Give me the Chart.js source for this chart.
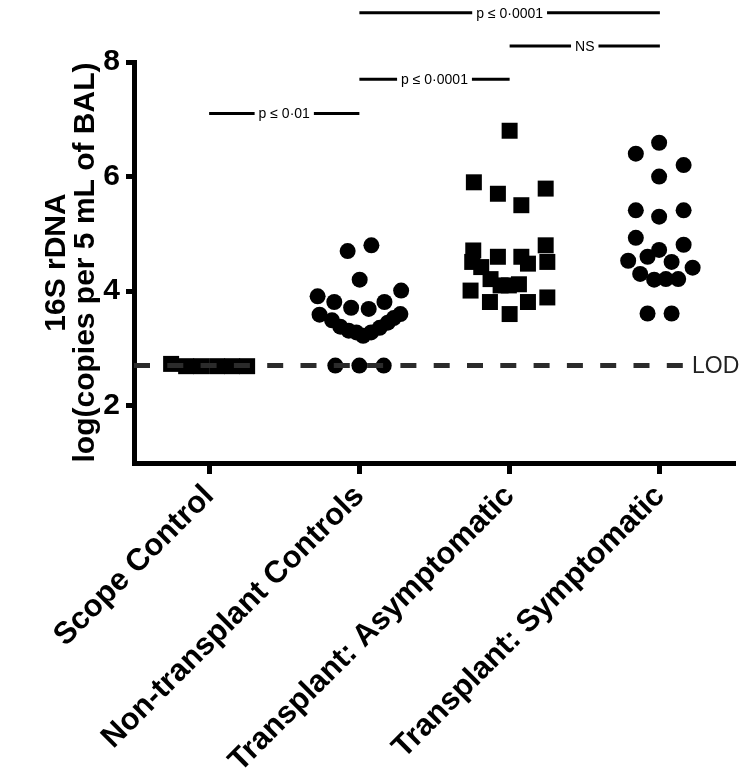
<!DOCTYPE html>
<html>
<head>
<meta charset="utf-8">
<script src="https://cdn.jsdelivr.net/npm/chart.js@4.4.0/dist/chart.umd.min.js"></script>
<style>
html,body{margin:0;padding:0;background:#fff;}
#wrap{width:748px;height:776px;position:relative;}
</style>
</head>
<body>
<div id="wrap"><canvas id="c"></canvas></div>
<script>
// ---- data ----
const categories = ['Scope Control', 'Non-transplant Controls', 'Transplant: Asymptomatic', 'Transplant: Symptomatic'];
const yTickValues = [2, 4, 6, 8];
const yMin = 1, yMax = 8;

const scopeValues = [2.73, 2.69, 2.69, 2.69, 2.69, 2.69];
const scopeJitter = [-0.253, -0.153, -0.053, 0.053, 0.153, 0.253];

const nonTxValues = [4.70, 4.80, 4.20, 3.91, 4.01, 3.81, 3.81, 3.71, 3.69, 3.59, 3.60, 3.49, 3.38, 3.31, 3.28, 3.22, 3.28, 3.36, 3.45, 3.53, 2.70, 2.70, 2.70];
const nonTxJitter = [-0.078, 0.080, 0.002, -0.278, 0.278, -0.167, 0.167, -0.055, 0.062, -0.265, 0.273, -0.182, -0.127, -0.071, -0.020, 0.025, 0.078, 0.135, 0.189, 0.229, -0.160, 0.000, 0.162];

const asympValues = [6.80, 5.90, 5.70, 5.79, 5.50, 4.71, 4.80, 4.60, 4.60, 4.51, 4.42, 4.48, 4.51, 4.21, 4.10, 4.10, 4.12, 4.01, 3.81, 3.81, 3.60, 3.89];
const asympJitter = [0.000, -0.238, -0.078, 0.240, 0.078, -0.242, 0.240, -0.078, 0.078, -0.249, -0.189, 0.122, 0.251, -0.127, -0.060, -0.005, 0.062, -0.260, -0.131, 0.122, 0.000, 0.251];

const sympValues = [6.59, 6.40, 6.20, 6.00, 5.41, 5.41, 5.30, 4.93, 4.81, 4.72, 4.60, 4.53, 4.51, 4.41, 4.30, 4.20, 4.21, 4.21, 3.61, 3.61];
const sympJitter = [-0.005, -0.160, 0.158, -0.005, -0.160, 0.158, -0.005, -0.160, 0.158, -0.005, -0.082, -0.211, 0.078, 0.218, -0.131, -0.038, 0.040, 0.122, -0.082, 0.078];

const lodValue = 2.7;
const lodLabel = 'LOD';

const sigFrom  = [0, 1, 2, 1];
const sigTo    = [1, 2, 3, 3];
const sigLevel = [7.10, 7.70, 8.28, 8.86];
const sigText  = ['p ≤ 0·01', 'p ≤ 0·0001', 'NS', 'p ≤ 0·0001'];

const yTitle = ['16S rDNA', 'log(copies per 5 mL of BAL)'];

// ---- build ----
const FONT = '"Liberation Sans", Arial, Helvetica, sans-serif';
function pts(idx, vals, jit) { return vals.map((v, i) => ({ x: idx + jit[i], y: v })); }

const groups = [
  { vals: scopeValues, jit: scopeJitter, style: 'rect' },
  { vals: nonTxValues, jit: nonTxJitter, style: 'circle' },
  { vals: asympValues, jit: asympJitter, style: 'rect' },
  { vals: sympValues, jit: sympJitter, style: 'circle' }
];

const datasets = groups.map((g, i) => ({
  label: categories[i],
  data: pts(i, g.vals, g.jit),
  pointStyle: g.style,
  pointRadius: g.style === 'rect' ? 11.3 : 8,
  pointBackgroundColor: '#000',
  pointBorderWidth: 0,
  showLine: false
}));

const overlay = {
  id: 'overlay',
  afterDatasetsDraw(chart) {
    const { ctx, chartArea, scales: { y } } = chart;
    const py = y.getPixelForValue(lodValue);
    ctx.save();
    ctx.strokeStyle = '#2b2b2b';
    ctx.lineWidth = 5;
    ctx.setLineDash([16, 17.3]);
    ctx.beginPath();
    ctx.moveTo(chartArea.left, py);
    ctx.lineTo(chartArea.right - 52, py);
    ctx.stroke();
    ctx.setLineDash([]);
    ctx.fillStyle = '#222';
    ctx.font = '23px ' + FONT;
    ctx.textAlign = 'left';
    ctx.textBaseline = 'middle';
    ctx.fillText(lodLabel, chartArea.right - 43, py + 1);
    ctx.restore();
  },
  afterDraw(chart) {
    const { ctx, scales: { x, y } } = chart;
    ctx.save();
    ctx.font = '14px ' + FONT;
    ctx.textAlign = 'center';
    ctx.textBaseline = 'middle';
    ctx.fillStyle = '#000';
    ctx.strokeStyle = '#000';
    ctx.lineWidth = 3;
    for (let i = 0; i < sigText.length; i++) {
      const x1 = x.getPixelForValue(sigFrom[i]);
      const x2 = x.getPixelForValue(sigTo[i]);
      const py = y.getPixelForValue(sigLevel[i]);
      const mid = (x1 + x2) / 2;
      const w = ctx.measureText(sigText[i]).width;
      ctx.beginPath();
      ctx.moveTo(x1, py); ctx.lineTo(mid - w / 2 - 4, py);
      ctx.moveTo(mid + w / 2 + 4, py); ctx.lineTo(x2, py);
      ctx.stroke();
      ctx.fillText(sigText[i], mid, py + 1);
    }
    ctx.restore();
  }
};

new Chart(document.getElementById('c'), {
  type: 'scatter',
  data: { datasets },
  options: {
    responsive: true,
    maintainAspectRatio: false,
    animation: false,
    devicePixelRatio: 1,
    layout: { padding: { left: 0, top: 62, right: 13, bottom: 0 } },
    plugins: { legend: { display: false }, tooltip: { enabled: false } },
    scales: {
      x: {
        type: 'linear',
        min: -0.5,
        max: 3.5,
        afterBuildTicks: s => { s.ticks = categories.map((c, i) => ({ value: i })); },
        afterFit: s => { s.height = 313; },
        grid: { display: true, drawOnChartArea: false, drawTicks: true, tickLength: 11, tickWidth: 5, tickColor: '#000' },
        border: { display: true, width: 5, color: '#000' },
        ticks: {
          autoSkip: false,
          minRotation: 45,
          maxRotation: 45,
          color: '#000',
          padding: 4,
          font: { family: FONT, size: 31, weight: 'bold' },
          callback: v => categories[v] !== undefined ? categories[v] : ''
        }
      },
      y: {
        type: 'linear',
        min: yMin,
        max: yMax,
        afterBuildTicks: s => { s.ticks = yTickValues.map(v => ({ value: v })); },
        afterFit: s => { s.width = 134; },
        grid: { display: true, drawOnChartArea: false, drawTicks: true, tickLength: 8, tickWidth: 5, tickColor: '#000' },
        border: { display: true, width: 5, color: '#000' },
        ticks: {
          color: '#000',
          padding: 6,
          font: { family: FONT, size: 30, weight: 'bold' }
        },
        title: {
          display: true,
          text: yTitle,
          color: '#000',
          font: { family: FONT, size: 30, weight: 'bold', lineHeight: 0.97 },
          padding: { top: 42, bottom: 0 }
        }
      }
    }
  },
  plugins: [overlay]
});
</script>
</body>
</html>
